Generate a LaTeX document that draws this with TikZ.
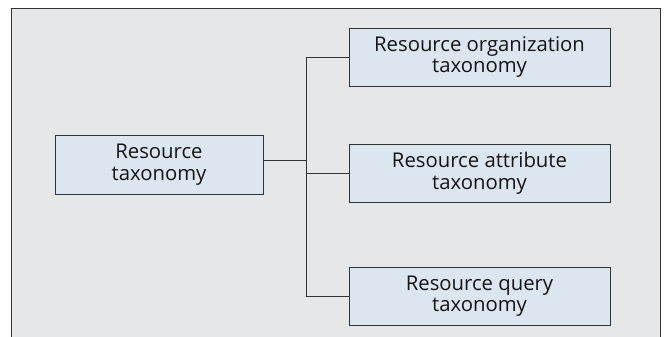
\documentclass[tikz,border=0pt]{standalone}
\usepackage{fontspec}
\setmainfont{Open Sans}
\usetikzlibrary{calc}
\definecolor{panelgray}{HTML}{E6E7E8}
\definecolor{boxblue}{HTML}{DCE6F1}
\definecolor{edgegray}{HTML}{333333}
\tikzset{taxbox/.style={draw=edgegray, line width=0.9pt, fill=boxblue, align=center, inner sep=0pt, text=black!92, font=\fontsize{20.3}{21.5}\selectfont}}

\begin{document}
\begin{tikzpicture}[x=1pt,y=1pt]
		%%%%% START %%%%%
		
		\useasboundingbox (0, 0) rectangle (664, -337);
		\fill[panelgray] (11, -8) rectangle (660, -337);
		\draw[edgegray, line width=0.9pt] (11, -337) -- (11, -8) -- (660, -8) -- (660, -337);
		
		\node[taxbox, minimum width=208, minimum height=59] (root) at (159, -164.5) {Resource\\taxonomy};
		
		\node[taxbox, minimum width=261, minimum height=58] (org) at (479.5, -57) {Resource organization\\taxonomy};
		\node[taxbox, minimum width=261, minimum height=58] (attr) at (479.5, -173) {Resource attribute\\taxonomy};
		\node[taxbox, minimum width=261, minimum height=58] (query) at (479.5, -296) {Resource query\\taxonomy};
		
		\coordinate (trunk) at (306, -160);
		
		\draw[edgegray, line width=0.9pt] (root.east |- trunk) -- (trunk);
		\draw[edgegray, line width=0.9pt] (trunk |- org.west) -- (trunk |- query.west);
		\draw[edgegray, line width=0.9pt] (trunk |- org.west) -- (org.west);
		\draw[edgegray, line width=0.9pt] (trunk |- attr.west) -- (attr.west);
		\draw[edgegray, line width=0.9pt] (trunk |- query.west) -- (query.west);
		
		%%%%% END %%%%%
	\end{tikzpicture}
\end{document}
